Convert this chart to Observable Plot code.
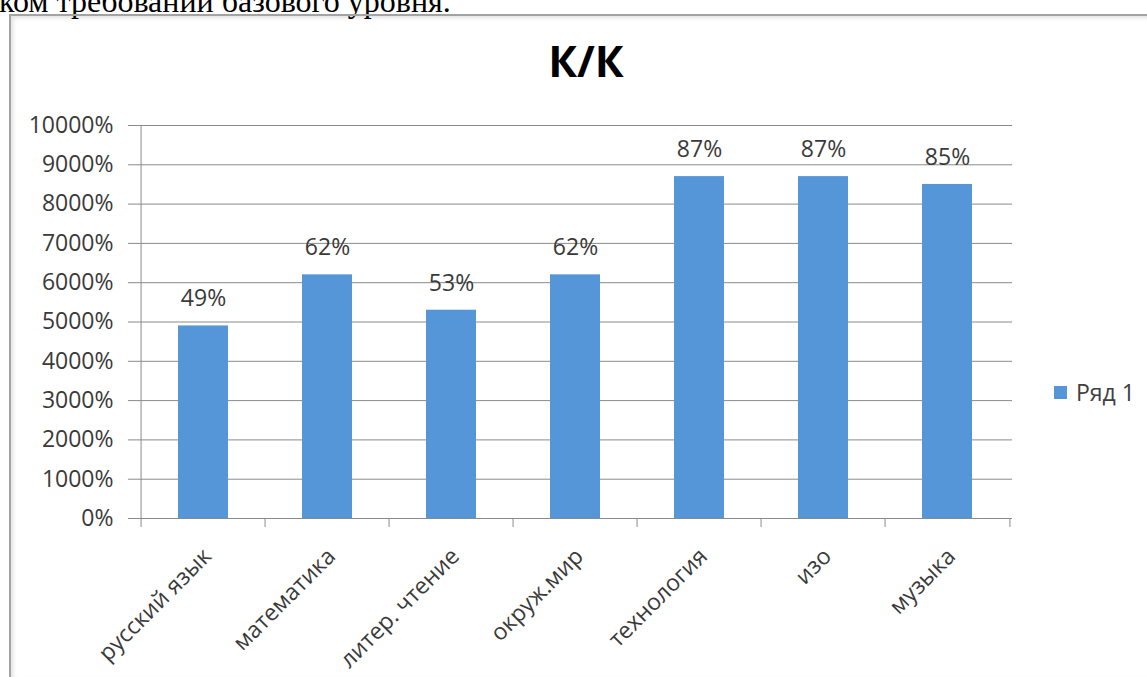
<!DOCTYPE html>
<html>
<head>
<meta charset="utf-8">
<script src="https://cdn.jsdelivr.net/npm/d3@7"></script>
<script src="https://cdn.jsdelivr.net/npm/@observablehq/plot@0.6"></script>
<style>
  html, body { margin: 0; padding: 0; background: #fff; width: 1147px; height: 677px; overflow: hidden; }
  #page { position: relative; width: 1147px; height: 677px; }
  #lead { position: absolute; left: -1px; top: -15px; font-family: "Liberation Serif", serif; font-size: 32px; line-height: 32px; color: #000; white-space: nowrap; }
  #box { position: absolute; left: 9px; top: 14px; width: 1200px; height: 662px; border-left: 2px solid #a3a3a3; border-top: 2px solid #a3a3a3; border-bottom: 1px solid #e0e0e0; box-shadow: inset 2px 2px 4px rgba(0,0,0,0.12); }
  #chart { position: absolute; left: 0; top: 0; }
  #title { position: absolute; left: 0; width: 1172px; top: 33px; text-align: center; font-family: "Open Sans", sans-serif; font-weight: bold; font-size: 43px; line-height: 56px; color: #000; }
  #legend { position: absolute; left: 1054px; top: 376px; font-family: "Open Sans", sans-serif; font-size: 23px; line-height: 32px; color: #404040; display: flex; align-items: center; }
  #legend .sw { width: 13px; height: 13px; margin-right: 9px; }
</style>
</head>
<body>
<div id="page">
  <div id="lead"></div>
  <div id="box"></div>
  <div id="chart"></div>
  <div id="title"></div>
  <div id="legend"><span class="sw"></span><span class="lbl"></span></div>
</div>
<script>
const leadText = "ком требований базового уровня.";
const chartTitle = "К/К";
const seriesName = "Ряд 1";
const categories = ["русский язык", "математика", "литер. чтение", "окруж.мир", "технология", "изо", "музыка"];
const values = [49, 62, 53, 62, 87, 87, 85];
const yTicks = [0, 10, 20, 30, 40, 50, 60, 70, 80, 90, 100];
const barColor = "#5596d8";
const gridColor = "#8a8a8a";
const textColor = "#3a3a3a";

const data = categories.map((c, i) => ({cat: c, val: values[i]}));

const W = 1147, H = 677;
const mL = 138, mR = 135, mT = 125, mB = 159;
const step = (W - mL - mR) / categories.length;
const plotH = H - mT - mB;

document.getElementById("lead").textContent = leadText;
document.getElementById("title").textContent = chartTitle;
document.querySelector("#legend .sw").style.background = barColor;
document.querySelector("#legend .lbl").textContent = seriesName;

const chart = Plot.plot({
  width: W,
  height: H,
  marginLeft: mL,
  marginRight: mR,
  marginTop: mT,
  marginBottom: mB,
  style: {fontFamily: "'Open Sans', sans-serif", fontSize: "23px", color: textColor, background: "transparent", overflow: "visible"},
  x: {domain: categories, paddingInner: 0.6, paddingOuter: 0.3, axis: null},
  y: {domain: [0, 100], axis: null},
  marks: [
    Plot.ruleY(yTicks, {stroke: gridColor, strokeWidth: 1, insetLeft: -10}),
    Plot.text(yTicks, {y: d => d, frameAnchor: "left", textAnchor: "end", dx: -25, text: d => (d * 100) + "%", fill: textColor}),
    Plot.barY(data, {x: "cat", y: "val", fill: barColor}),
    Plot.text(data, {x: "cat", y: "val", text: d => d.val + "%", dy: -27, lineAnchor: "middle", fill: textColor}),
    Plot.ruleY([0], {stroke: gridColor, strokeWidth: 1}),
    Plot.ruleX([categories[0]], {y1: 0, y2: 100, dx: -step / 2, stroke: gridColor}),
    Plot.ruleX(categories, {dx: -step / 2, insetTop: plotH, insetBottom: -9, stroke: gridColor}),
    Plot.ruleX([categories[categories.length - 1]], {dx: step / 2, insetTop: plotH, insetBottom: -9, stroke: gridColor}),
    Plot.text(categories, {x: d => d, frameAnchor: "bottom", rotate: -45, textAnchor: "end", lineAnchor: "middle", dx: 4, dy: 34, fill: textColor})
  ]
});
document.getElementById("chart").appendChild(chart);
</script>
</body>
</html>
